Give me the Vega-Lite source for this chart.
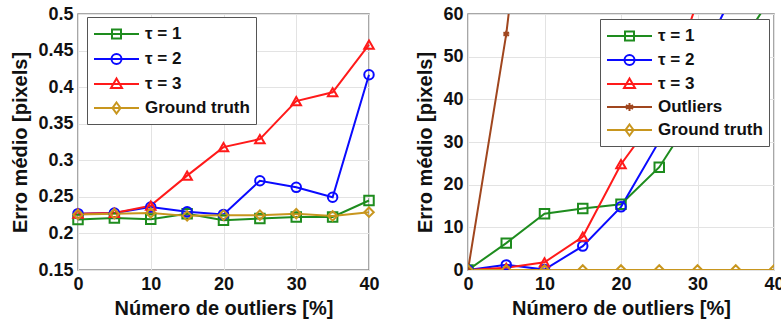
{
  "$schema": "https://vega.github.io/schema/vega-lite/v6.json",
  "background": "white",
  "padding": {"left": 10, "top": 4, "right": 0, "bottom": 0},
  "datasets": {
    "left": [
      {"series": "τ = 1", "x": 0, "y": 0.219}, {"series": "τ = 1", "x": 5, "y": 0.221}, {"series": "τ = 1", "x": 10, "y": 0.2195},
      {"series": "τ = 1", "x": 15, "y": 0.227}, {"series": "τ = 1", "x": 20, "y": 0.218}, {"series": "τ = 1", "x": 25, "y": 0.2205},
      {"series": "τ = 1", "x": 30, "y": 0.2225}, {"series": "τ = 1", "x": 35, "y": 0.2225}, {"series": "τ = 1", "x": 40, "y": 0.245},
      {"series": "τ = 2", "x": 0, "y": 0.227}, {"series": "τ = 2", "x": 5, "y": 0.228}, {"series": "τ = 2", "x": 10, "y": 0.236},
      {"series": "τ = 2", "x": 15, "y": 0.2295}, {"series": "τ = 2", "x": 20, "y": 0.226}, {"series": "τ = 2", "x": 25, "y": 0.272},
      {"series": "τ = 2", "x": 30, "y": 0.263}, {"series": "τ = 2", "x": 35, "y": 0.2495}, {"series": "τ = 2", "x": 40, "y": 0.417},
      {"series": "τ = 3", "x": 0, "y": 0.227}, {"series": "τ = 3", "x": 5, "y": 0.228}, {"series": "τ = 3", "x": 10, "y": 0.238},
      {"series": "τ = 3", "x": 15, "y": 0.279}, {"series": "τ = 3", "x": 20, "y": 0.318}, {"series": "τ = 3", "x": 25, "y": 0.329},
      {"series": "τ = 3", "x": 30, "y": 0.381}, {"series": "τ = 3", "x": 35, "y": 0.393}, {"series": "τ = 3", "x": 40, "y": 0.458},
      {"series": "Ground truth", "x": 0, "y": 0.226}, {"series": "Ground truth", "x": 5, "y": 0.227}, {"series": "Ground truth", "x": 10, "y": 0.228},
      {"series": "Ground truth", "x": 15, "y": 0.224}, {"series": "Ground truth", "x": 20, "y": 0.225}, {"series": "Ground truth", "x": 25, "y": 0.225},
      {"series": "Ground truth", "x": 30, "y": 0.227}, {"series": "Ground truth", "x": 35, "y": 0.224}, {"series": "Ground truth", "x": 40, "y": 0.229}
    ],
    "right": [
      {"series": "τ = 1", "x": 0, "y": 0}, {"series": "τ = 1", "x": 5, "y": 6.3}, {"series": "τ = 1", "x": 10, "y": 13.2},
      {"series": "τ = 1", "x": 15, "y": 14.4}, {"series": "τ = 1", "x": 20, "y": 15.4}, {"series": "τ = 1", "x": 25, "y": 24.1},
      {"series": "τ = 1", "x": 30, "y": 38}, {"series": "τ = 1", "x": 35, "y": 51}, {"series": "τ = 1", "x": 40, "y": 65},
      {"series": "τ = 2", "x": 0, "y": 0}, {"series": "τ = 2", "x": 5, "y": 1.2}, {"series": "τ = 2", "x": 10, "y": 0.1},
      {"series": "τ = 2", "x": 15, "y": 5.6}, {"series": "τ = 2", "x": 20, "y": 14.8}, {"series": "τ = 2", "x": 25, "y": 30.2},
      {"series": "τ = 2", "x": 30, "y": 48}, {"series": "τ = 2", "x": 35, "y": 66}, {"series": "τ = 2", "x": 40, "y": 82},
      {"series": "τ = 3", "x": 0, "y": 0}, {"series": "τ = 3", "x": 5, "y": 0.5}, {"series": "τ = 3", "x": 10, "y": 1.8},
      {"series": "τ = 3", "x": 15, "y": 7.8}, {"series": "τ = 3", "x": 20, "y": 24.8}, {"series": "τ = 3", "x": 25, "y": 37},
      {"series": "τ = 3", "x": 30, "y": 63}, {"series": "τ = 3", "x": 35, "y": 85}, {"series": "τ = 3", "x": 40, "y": 105},
      {"series": "Outliers", "x": 0, "y": 0}, {"series": "Outliers", "x": 5, "y": 55.3}, {"series": "Outliers", "x": 10, "y": 130},
      {"series": "Ground truth", "x": 0, "y": 0}, {"series": "Ground truth", "x": 5, "y": 0}, {"series": "Ground truth", "x": 10, "y": 0},
      {"series": "Ground truth", "x": 15, "y": 0}, {"series": "Ground truth", "x": 20, "y": 0}, {"series": "Ground truth", "x": 25, "y": 0},
      {"series": "Ground truth", "x": 30, "y": 0}, {"series": "Ground truth", "x": 35, "y": 0}, {"series": "Ground truth", "x": 40, "y": 0}
    ]
  },
  "config": {
    "font": "Liberation Sans",
    "view": {"stroke": "#8a8a8a", "strokeWidth": 1.5},
    "axis": {
      "labelFont": "Liberation Sans", "labelFontWeight": "bold", "labelFontSize": 18, "labelColor": "#111",
      "titleFont": "Liberation Sans", "titleFontWeight": "bold", "titleFontSize": 20, "titleColor": "#111",
      "ticks": false, "domain": false, "gridColor": "#e3e3e3", "gridWidth": 1, "labelPadding": 5, "labelFlush": false
    },
    "axisY": {"titlePadding": 7},
    "axisX": {"titlePadding": 5},
    "legend": {
      "fillColor": "white", "strokeColor": "#555", "padding": 6,
      "labelFont": "Liberation Sans", "labelFontSize": 17, "labelFontWeight": "bold", "labelColor": "#111",
      "symbolSize": 400, "symbolStrokeWidth": 2, "rowPadding": 5, "labelOffset": 30, "symbolFillColor": "transparent"
    }
  },
  "spacing": 35,
  "resolve": {
    "scale": {"color": "independent", "shape": "independent", "x": "independent", "y": "independent"},
    "legend": {"color": "independent", "shape": "independent"}
  },
  "hconcat": [
    {
      "width": 291, "height": 256,
      "data": {"name": "left"},
      "encoding": {
        "x": {"field": "x", "type": "quantitative", "scale": {"domain": [0, 40], "nice": false},
              "axis": {"values": [0, 10, 20, 30, 40], "title": "Número de outliers [%]"}},
        "y": {"field": "y", "type": "quantitative", "scale": {"domain": [0.15, 0.5], "nice": false, "zero": false},
              "axis": {"values": [0.15, 0.2, 0.25, 0.3, 0.35, 0.4, 0.45, 0.5], "format": "~g", "title": "Erro médio [pixels]"}}
      },
      "resolve": {"scale": {"color": "independent", "shape": "independent"}, "legend": {"color": "independent", "shape": "independent"}},
      "layer": [
        {
          "mark": {"type": "line", "strokeWidth": 2},
          "encoding": {"color": {"field": "series", "type": "nominal",
            "scale": {"domain": ["τ = 1", "τ = 2", "τ = 3", "Ground truth"], "range": ["#1e8c1e", "#0a0aff", "#ff1a1a", "#c8961e"]}, "legend": null}}
        },
        {
          "mark": {"type": "point", "filled": false, "strokeWidth": 2, "size": 90, "opacity": 1},
          "encoding": {
            "color": {"field": "series", "type": "nominal",
              "scale": {"domain": ["τ = 1", "τ = 2", "τ = 3", "Ground truth"], "range": ["#1e8c1e", "#0a0aff", "#ff1a1a", "#c8961e"]}, "legend": null},
            "shape": {"field": "series", "type": "nominal",
              "scale": {"domain": ["τ = 1", "τ = 2", "τ = 3", "Ground truth"], "range": ["square", "circle", "triangle-up", "diamond"]}, "legend": null}
          }
        },
        {
          "transform": [{"filter": "datum.x < 0"}],
          "mark": {"type": "point", "filled": false, "strokeWidth": 2, "opacity": 1},
          "encoding": {
            "color": {"field": "series", "type": "nominal",
              "scale": {"domain": ["τ = 1", "τ = 2", "τ = 3", "Ground truth"], "range": ["#1e8c1e", "#0a0aff", "#ff1a1a", "#c8961e"]},
              "legend": {"title": null, "orient": "none", "legendX": 9, "legendY": 3}},
            "shape": {"field": "series", "type": "nominal",
              "scale": {"domain": ["τ = 1", "τ = 2", "τ = 3", "Ground truth"],
                "range": ["M-1,0H3.5M0.8,-0.45H1.7V0.45H0.8Z", "M-1,0H3.5M1.75,0A0.5,0.5 0 1,1 0.75,0A0.5,0.5 0 1,1 1.75,0Z", "M-1,0H3.5M1.25,-0.55L1.8,0.4H0.7Z", "M-1,0H3.5M1.25,-0.55L1.65,0L1.25,0.55L0.85,0Z"]},
              "legend": {"title": null, "orient": "none", "legendX": 9, "legendY": 3}}
          }
        }
      ]
    },
    {
      "width": 306, "height": 256,
      "data": {"name": "right"},
      "encoding": {
        "x": {"field": "x", "type": "quantitative", "scale": {"domain": [0, 40], "nice": false},
              "axis": {"values": [0, 10, 20, 30, 40], "title": "Número de outliers [%]"}},
        "y": {"field": "y", "type": "quantitative", "scale": {"domain": [0, 60], "nice": false},
              "axis": {"values": [0, 10, 20, 30, 40, 50, 60], "title": "Erro médio [pixels]"}}
      },
      "resolve": {"scale": {"color": "independent", "shape": "independent"}, "legend": {"color": "independent", "shape": "independent"}},
      "layer": [
        {
          "mark": {"type": "line", "strokeWidth": 2, "clip": true},
          "encoding": {"color": {"field": "series", "type": "nominal",
            "scale": {"domain": ["τ = 1", "τ = 2", "τ = 3", "Outliers", "Ground truth"], "range": ["#1e8c1e", "#0a0aff", "#ff1a1a", "#a0461e", "#c8961e"]}, "legend": null}}
        },
        {
          "mark": {"type": "point", "filled": false, "strokeWidth": 2, "size": 90, "opacity": 1, "clip": true},
          "encoding": {
            "color": {"field": "series", "type": "nominal",
              "scale": {"domain": ["τ = 1", "τ = 2", "τ = 3", "Outliers", "Ground truth"], "range": ["#1e8c1e", "#0a0aff", "#ff1a1a", "#a0461e", "#c8961e"]}, "legend": null},
            "shape": {"field": "series", "type": "nominal",
              "scale": {"domain": ["τ = 1", "τ = 2", "τ = 3", "Outliers", "Ground truth"], "range": ["square", "circle", "triangle-up", "M0,-0.7V0.7M-0.6,-0.35L0.6,0.35M-0.6,0.35L0.6,-0.35", "diamond"]}, "legend": null}
          }
        },
        {
          "transform": [{"filter": "datum.x < 0"}],
          "mark": {"type": "point", "filled": false, "strokeWidth": 2, "opacity": 1},
          "encoding": {
            "color": {"field": "series", "type": "nominal",
              "scale": {"domain": ["τ = 1", "τ = 2", "τ = 3", "Outliers", "Ground truth"], "range": ["#1e8c1e", "#0a0aff", "#ff1a1a", "#a0461e", "#c8961e"]},
              "legend": {"title": null, "orient": "top-right", "offset": 5, "rowPadding": 4}},
            "shape": {"field": "series", "type": "nominal",
              "scale": {"domain": ["τ = 1", "τ = 2", "τ = 3", "Outliers", "Ground truth"],
                "range": ["M-1,0H3.5M0.8,-0.45H1.7V0.45H0.8Z", "M-1,0H3.5M1.75,0A0.5,0.5 0 1,1 0.75,0A0.5,0.5 0 1,1 1.75,0Z", "M-1,0H3.5M1.25,-0.55L1.8,0.4H0.7Z", "M-1,0H3.5M1.25,-0.4V0.4M0.9,-0.2L1.6,0.2M0.9,0.2L1.6,-0.2", "M-1,0H3.5M1.25,-0.55L1.65,0L1.25,0.55L0.85,0Z"]},
              "legend": {"title": null, "orient": "top-right", "offset": 5, "rowPadding": 4}}
          }
        }
      ]
    }
  ]
}
